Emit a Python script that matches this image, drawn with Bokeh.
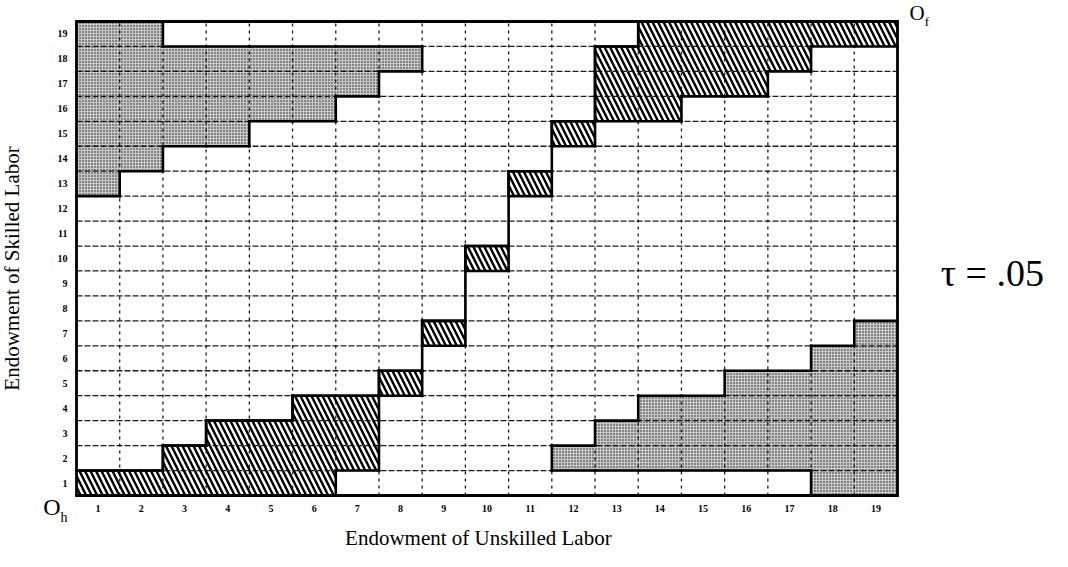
from bokeh.plotting import figure
from bokeh.models import Range1d
from bokeh.embed import file_html
from bokeh.resources import INLINE
from bokeh.core.properties import value
import math

# ---------------- data ----------------
N = 19
x_tick_labels = [str(i) for i in range(1, 20)]
y_tick_labels = [str(i) for i in range(1, 20)]

# stippled (gray) cells, as row runs: row, first column, last column
gray_rows  = [19, 18, 17, 16, 15, 14, 13, 1, 2, 3, 4, 5, 6, 7]
gray_first = [1, 1, 1, 1, 1, 1, 1, 18, 12, 13, 14, 16, 18, 19]
gray_last  = [2, 8, 7, 6, 4, 2, 1, 19, 19, 19, 19, 19, 19, 19]

# hatched cells, as row runs
hatch_rows  = [1, 2, 3, 4, 5, 7, 10, 13, 15, 16, 17, 18, 19]
hatch_first = [1, 3, 4, 6, 8, 9, 10, 11, 12, 13, 13, 13, 14]
hatch_last  = [6, 7, 7, 7, 8, 9, 10, 11, 12, 14, 16, 17, 19]

# dividing staircase: height of the line above each column
division = [1, 1, 2, 3, 3, 4, 4, 5, 7, 10, 13, 15, 18, 19, 19, 19, 19, 19, 19]

x_title = "Endowment of Unskilled Labor"
y_title = "Endowment of Skilled Labor"
tau_text = "\u03c4 = .05"

# ---------------- figure ----------------
W, H = 1052, 551
grid_left, grid_right, grid_top, grid_bottom = 76, 897, 21, 495   # pixel box of the 19x19 grid
ux = (grid_right - grid_left) / N
uy = (grid_bottom - grid_top) / N

p = figure(width=W, height=H, output_backend="svg", toolbar_location=None,
           x_range=Range1d(-grid_left / ux, N + (W - grid_right) / ux),
           y_range=Range1d(-(H - grid_bottom) / uy, N + grid_top / uy),
           min_border=0)
p.axis.visible = False
p.grid.visible = False
p.outline_line_color = None
p.background_fill_color = "white"
p.border_fill_color = "white"

serif = "Liberation Serif"

def runs_to_quads(rows, first, last):
    return dict(left=[f - 1 for f in first], right=list(last),
                bottom=[r - 1 for r in rows], top=list(rows))

p.quad(**runs_to_quads(gray_rows, gray_first, gray_last),
       fill_color="#c8c8c8", line_color=None,
       hatch_pattern="dot", hatch_color="#1a1a1a", hatch_scale=3, hatch_weight=1.2)
p.quad(**runs_to_quads(hatch_rows, hatch_first, hatch_last),
       fill_color="white", line_color=None,
       hatch_pattern="left_diagonal_line", hatch_color="black", hatch_scale=11, hatch_weight=2.4)

# dashed grid lines
inner = list(range(1, N))
p.segment(x0=inner, y0=[0] * len(inner), x1=inner, y1=[N] * len(inner),
          line_color="black", line_width=1.3, line_dash="3 4", line_alpha=0.9)
p.segment(x0=[0] * len(inner), y0=inner, x1=[N] * len(inner), y1=inner,
          line_color="black", line_width=1.3, line_dash="6 2", line_alpha=0.9)

# classify cells to find the region outlines
cls = {}
for rows, first, last, k in ((gray_rows, gray_first, gray_last, 1),
                             (hatch_rows, hatch_first, hatch_last, 2)):
    for r, f, l in zip(rows, first, last):
        for c in range(f, l + 1):
            cls[(c, r)] = k

x0, y0, x1, y1 = [], [], [], []
for c in range(1, N + 1):
    for r in range(1, N + 1):
        a = cls.get((c, r), 0)
        if r < N and a != cls.get((c, r + 1), 0):
            x0.append(c - 1); x1.append(c); y0.append(r); y1.append(r)
        if c < N and a != cls.get((c + 1, r), 0):
            x0.append(c); x1.append(c); y0.append(r - 1); y1.append(r)
p.segment(x0=x0, y0=y0, x1=x1, y1=y1, line_color="black", line_width=2.6, line_cap="square")

sx, sy = [], []
for i, h in enumerate(division):
    sx += [i, i + 1]
    sy += [h, h]
p.line(sx, sy, line_color="black", line_width=2.6, line_join="miter")

# frame of the box
p.quad(left=[0], right=[N], bottom=[0], top=[N], fill_color=None,
       line_color="black", line_width=2.8, line_join="miter")

# tick labels
centers = [i + 0.5 for i in range(N)]
p.text(x=centers, y=[-13 / uy] * N, text=x_tick_labels, text_font=value(serif),
       text_font_style="bold", text_font_size="10px", text_align="center",
       text_baseline="middle", text_color="black")
p.text(x=[-9 / ux] * N, y=centers, text=y_tick_labels, text_font=value(serif),
       text_font_style="bold", text_font_size="10px", text_align="right",
       text_baseline="middle", text_color="black")

# titles and corner marks
def txt(x, y, s, size, align="left", angle=0.0, baseline="middle"):
    p.text(x=[x], y=[y], text=[s], text_font=value(serif), text_font_size=size,
           text_align=align, text_baseline=baseline, text_color="black", angle=angle)

txt(9.3, -42 / uy, x_title, "21px", "center")
txt(-1.5, 9.1, y_title, "21px", "center", math.pi / 2)
txt(-0.37, -0.46, "O", "24px", "right")
txt(-0.37, -0.88, "h", "14px", "left")
txt(19.28, N + 21 / uy, "O", "21px", "left", baseline="top")
txt(19.63, 19.02, "f", "13px", "left")
txt(20.0, 8.9, tau_text, "38px", "left")

open("out.html", "w").write(file_html(p, INLINE))
